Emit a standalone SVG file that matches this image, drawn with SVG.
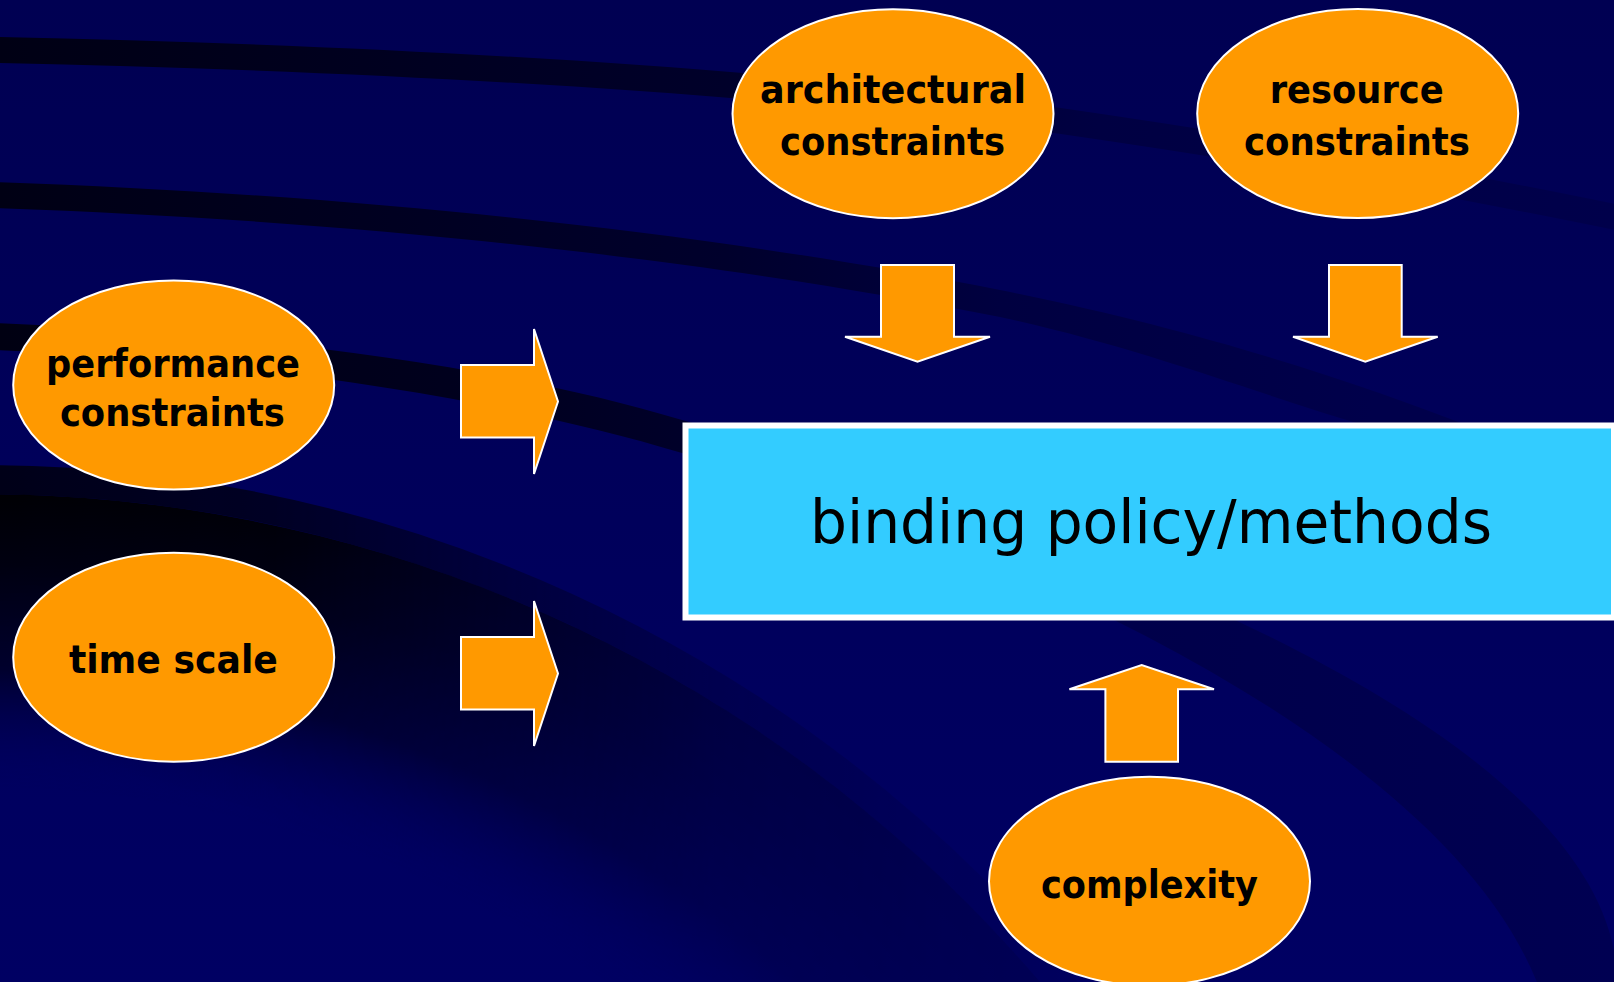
<svg xmlns="http://www.w3.org/2000/svg" width="1614" height="982" viewBox="0 0 1614 982">
  <defs>
    <style>
      .node ellipse { fill: #FF9900; stroke: #FFFFFF; stroke-width: 2; }
      .lbl { font-family: "DejaVu Sans", "Liberation Sans", sans-serif; font-weight: bold; font-size: 39px; fill: #000000; text-anchor: middle; }
      .title { font-family: "DejaVu Sans", "Liberation Sans", sans-serif; font-weight: normal; font-size: 60px; fill: #000000; text-anchor: middle; }
      .arrow { fill: #FF9900; stroke: #FFFFFF; stroke-width: 2; stroke-linejoin: miter; }
    </style>
    <!-- slide backdrop -->
    <linearGradient id="bgGrad" x1="0" y1="0" x2="0" y2="1">
      <stop offset="0" stop-color="#000052"/>
      <stop offset="1" stop-color="#000063"/>
    </linearGradient>
    <!-- dark swooshes fade out towards the right -->
    <linearGradient id="bandA" gradientUnits="userSpaceOnUse" x1="0" y1="0" x2="1614" y2="0">
      <stop offset="0" stop-color="#000014"/>
      <stop offset="0.45" stop-color="#00002a"/>
      <stop offset="0.68" stop-color="#000042"/>
      <stop offset="1" stop-color="#00004b"/>
    </linearGradient>
    <linearGradient id="bandB" gradientUnits="userSpaceOnUse" x1="0" y1="0" x2="1614" y2="0">
      <stop offset="0" stop-color="#000014"/>
      <stop offset="0.45" stop-color="#00002c"/>
      <stop offset="0.62" stop-color="#000040"/>
      <stop offset="0.85" stop-color="#00004b"/>
    </linearGradient>
    <linearGradient id="bandC" gradientUnits="userSpaceOnUse" x1="0" y1="0" x2="1614" y2="0">
      <stop offset="0" stop-color="#000012"/>
      <stop offset="0.3" stop-color="#00001e"/>
      <stop offset="0.45" stop-color="#00002c"/>
      <stop offset="0.7" stop-color="#00004a"/>
      <stop offset="1" stop-color="#000052"/>
    </linearGradient>
    <linearGradient id="ringGrad" gradientUnits="userSpaceOnUse" x1="0" y1="0" x2="1100" y2="0">
      <stop offset="0" stop-color="#000018"/>
      <stop offset="0.6" stop-color="#00002e"/>
      <stop offset="1" stop-color="#00003e"/>
    </linearGradient>
    <radialGradient id="coreGrad" gradientUnits="userSpaceOnUse" cx="-20" cy="1889" r="1395">
      <stop offset="0" stop-color="#000060" stop-opacity="0"/>
      <stop offset="0.79" stop-color="#000060" stop-opacity="0"/>
      <stop offset="0.875" stop-color="#00002a" stop-opacity="0.95"/>
      <stop offset="0.95" stop-color="#000010"/>
      <stop offset="1" stop-color="#000004"/>
    </radialGradient>
    <!-- the dark core weakens towards the right -->
    <linearGradient id="coreMaskGrad" gradientUnits="userSpaceOnUse" x1="0" y1="0" x2="1100" y2="0">
      <stop offset="0" stop-color="#ffffff"/>
      <stop offset="0.25" stop-color="#f0f0f0"/>
      <stop offset="0.45" stop-color="#a0a0a0"/>
      <stop offset="0.65" stop-color="#505050"/>
      <stop offset="0.85" stop-color="#303030"/>
      <stop offset="1" stop-color="#202020"/>
    </linearGradient>
    <mask id="coreMask" maskUnits="userSpaceOnUse" x="0" y="0" width="1614" height="982">
      <rect x="0" y="0" width="1614" height="982" fill="url(#coreMaskGrad)"/>
    </mask>
  </defs>

  <g id="background">
    <rect x="0" y="0" width="1614" height="982" fill="url(#bgGrad)"/>
    <path fill="url(#bandA)" d="M -5 37 C 400 45, 800 70, 1054 107 C 1250 135, 1450 170, 1620 205 L 1620 231 C 1450 196, 1250 161, 1054 133 C 800 96, 400 71, -5 63 Z"/>
    <path fill="url(#bandB)" d="M -5 182 C 400 196, 750 240, 1000 290 C 1200 330, 1350 380, 1480 430 L 1380 430 C 1250 392, 1150 350, 1000 317 C 750 267, 400 222, -5 208 Z"/>
    <path fill="url(#bandC)" d="M -5 323 C 250 333, 500 365, 682 420 C 900 485, 1560 680, 1614 950 L 1614 990 L 1540 990 C 1440 720, 920 519, 682 453 C 500 398, 250 360, -5 350 Z"/>
    <circle cx="-20" cy="1889" r="1409.5" fill="none" stroke="url(#ringGrad)" stroke-width="29" mask="url(#coreMask)"/>
    <circle cx="-20" cy="1889" r="1395" fill="url(#coreGrad)" mask="url(#coreMask)"/>
  </g>

  <g id="connectors">
    <polygon class="arrow" points="461,365 534,365 534,329 558,401.5 534,474 534,437.5 461,437.5"/>
    <polygon class="arrow" points="461,637 534,637 534,601 558,673.5 534,746 534,709.5 461,709.5"/>
    <polygon class="arrow" points="881,265 954,265 954,336.7 990,336.7 917.5,361.7 845,336.7 881,336.7"/>
    <polygon class="arrow" points="1329,265 1401.7,265 1401.7,336.7 1437.7,336.7 1365.3,361.7 1293,336.7 1329,336.7"/>
    <polygon class="arrow" points="1105.4,761.7 1105.4,689.3 1069.4,689.3 1141.7,665 1214,689.3 1178,689.3 1178,761.7"/>
  </g>

  <g id="node-binding" class="node">
    <rect x="685.5" y="425.5" width="928.5" height="192" fill="#33CCFF" stroke="#FFFFFF" stroke-width="6"/>
    <text class="title" x="1151" y="543.3" textLength="682" lengthAdjust="spacingAndGlyphs">binding policy/methods</text>
  </g>

  <g id="node-architectural" class="node">
    <ellipse cx="893" cy="113.7" rx="160.5" ry="104.5"/>
    <text class="lbl" x="893" y="103.3" textLength="266" lengthAdjust="spacingAndGlyphs">architectural</text>
    <text class="lbl" x="892.5" y="154.5" textLength="225" lengthAdjust="spacingAndGlyphs">constraints</text>
  </g>

  <g id="node-resource" class="node">
    <ellipse cx="1357.7" cy="113.5" rx="160.5" ry="104.5"/>
    <text class="lbl" x="1356.7" y="103.3" textLength="174" lengthAdjust="spacingAndGlyphs">resource</text>
    <text class="lbl" x="1357" y="154.5" textLength="226" lengthAdjust="spacingAndGlyphs">constraints</text>
  </g>

  <g id="node-performance" class="node">
    <ellipse cx="173.7" cy="385" rx="160.5" ry="104.5"/>
    <text class="lbl" x="173" y="376.7" textLength="254" lengthAdjust="spacingAndGlyphs">performance</text>
    <text class="lbl" x="172.4" y="425.5" textLength="225" lengthAdjust="spacingAndGlyphs">constraints</text>
  </g>

  <g id="node-timescale" class="node">
    <ellipse cx="173.7" cy="657.2" rx="160.5" ry="104.5"/>
    <text class="lbl" x="173.4" y="672.5" textLength="209" lengthAdjust="spacingAndGlyphs">time scale</text>
  </g>

  <g id="node-complexity" class="node">
    <ellipse cx="1149.5" cy="881.2" rx="160.5" ry="104.5"/>
    <text class="lbl" x="1149.5" y="897.5" textLength="217" lengthAdjust="spacingAndGlyphs">complexity</text>
  </g>
</svg>
